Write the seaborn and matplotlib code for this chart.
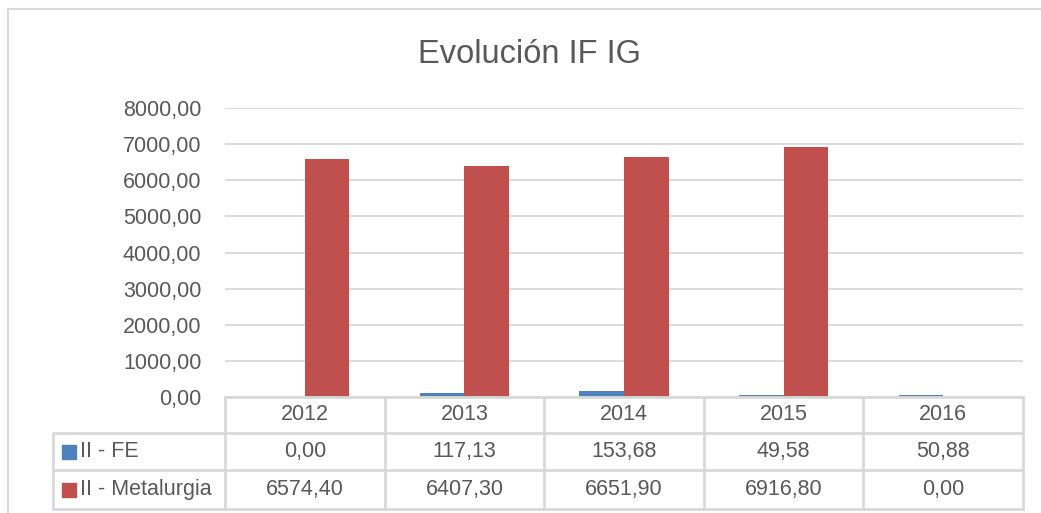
import matplotlib
matplotlib.use("Agg")
import matplotlib.pyplot as plt
import matplotlib.transforms as mtransforms
from matplotlib.ticker import FuncFormatter
from matplotlib.patches import Rectangle
import seaborn as sns
import pandas as pd

years = ["2012", "2013", "2014", "2015", "2016"]
series_names = ["II - FE", "II - Metalurgia"]
fe_values = [0.00, 117.13, 153.68, 49.58, 50.88]
metal_values = [6574.40, 6407.30, 6651.90, 6916.80, 0.00]
title = "Evolución IF IG"
colors = ["#4F81BD", "#C0504D"]
text_color = "#595959"
grid_color = "#D9D9D9"

df = pd.DataFrame({
    "year": years * 2,
    "value": fe_values + metal_values,
    "series": [series_names[0]] * len(years) + [series_names[1]] * len(years),
})

sns.set_theme(style="white")
plt.rcParams["font.family"] = ["Liberation Sans", "DejaVu Sans"]

W, H = 1041, 513
fig = plt.figure(figsize=(W / 100, H / 100), dpi=100)

def fx(px):
    return px / W

def fy(py):
    return 1 - py / H

ax = fig.add_axes([fx(225), fy(397), fx(1023) - fx(225), fy(108) - fy(397)])
sns.barplot(data=df, x="year", y="value", hue="series", palette=colors,
            saturation=1, width=0.56, linewidth=0, ax=ax, legend=False)
ax.set_xlim(-0.5, len(years) - 0.5)
ax.set_ylim(0, 8000)
ax.set_yticks(range(0, 8001, 1000))
ax.yaxis.set_major_formatter(FuncFormatter(lambda v, p: f"{v:.2f}".replace(".", ",")))
ax.tick_params(axis="y", length=0, pad=17, labelsize=15.5, labelcolor=text_color)
ax.set_xticks([])
ax.set_xlabel("")
ax.set_ylabel("")
ax.grid(axis="y", color=grid_color, linewidth=1.3)
ax.set_axisbelow(True)
for s in ["top", "right", "left"]:
    ax.spines[s].set_visible(False)
ax.spines["bottom"].set_color(grid_color)
ax.spines["bottom"].set_linewidth(2)

# Data table
tr = mtransforms.blended_transform_factory(ax.transData, fig.transFigure)
lc = grid_color
lw = 2
y_top, y_r1, y_r2, y_bot = fy(397), fy(433), fy(470), fy(509)
n = len(years)
for i in range(n + 1):
    ax.plot([i - 0.5, i - 0.5], [y_top, y_bot], transform=tr, color=lc, lw=lw, clip_on=False)
for yy in [y_r1, y_r2, y_bot]:
    fig.add_artist(plt.Line2D([fx(53), fx(1023)], [yy, yy], color=lc, lw=lw))
fig.add_artist(plt.Line2D([fx(53), fx(53)], [y_r1, y_bot], color=lc, lw=lw))

fmt = lambda v: f"{v:.2f}".replace(".", ",")
fs = 15.5
for i, yr in enumerate(years):
    ax.text(i, (y_top + y_r1) / 2, yr, transform=tr, ha="center", va="center",
            fontsize=fs, color=text_color)
    ax.text(i, (y_r1 + y_r2) / 2, fmt(fe_values[i]), transform=tr, ha="center",
            va="center", fontsize=fs, color=text_color)
    ax.text(i, (y_r2 + y_bot) / 2, fmt(metal_values[i]), transform=tr, ha="center",
            va="center", fontsize=fs, color=text_color)

for name, col, (ya, yb) in zip(series_names, colors, [(y_r1, y_r2), (y_r2, y_bot)]):
    yc = (ya + yb) / 2
    fig.add_artist(Rectangle((fx(62), yc - 7 / H), 14 / W, 14 / H, color=col))
    fig.text(fx(80), yc, name, ha="left", va="center", fontsize=fs, color=text_color)

# Title
fig.text(fx(529), fy(55), title, ha="center", va="center", fontsize=23.5, color=text_color)

# Outer chart border
fig.add_artist(Rectangle((fx(8), -0.1), 1.2, fy(9) + 0.1, fill=False,
                         edgecolor=grid_color, linewidth=1.5))

fig.savefig("out.png", dpi=100)
